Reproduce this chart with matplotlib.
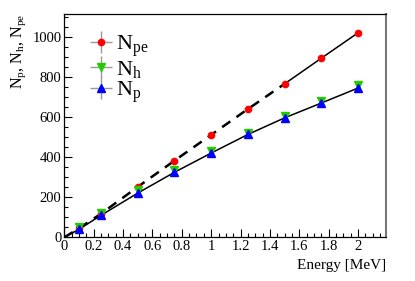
import matplotlib
matplotlib.use("Agg")
import matplotlib.pyplot as plt
import numpy as np
from matplotlib.ticker import MultipleLocator

plt.rcParams['font.family'] = ['Liberation Serif', 'DejaVu Serif']
plt.rcParams['mathtext.fontset'] = 'custom'
plt.rcParams['mathtext.rm'] = 'Liberation Serif'
plt.rcParams['mathtext.it'] = 'Liberation Serif'

# ---- data ----
energy = [0.1, 0.25, 0.5, 0.75, 1.0, 1.25, 1.5, 1.75, 2.0]
n_pe = [45, 118, 252, 383, 512, 641, 767, 895, 1022]
n_h = [52, 122, 236, 336, 432, 522, 607, 683, 759]
n_p = [40, 110, 221, 325, 421, 514, 597, 671, 746]
err = 4  # tiny, hidden behind markers

# ---- figure ----
fig = plt.figure(figsize=(4.15, 2.81), dpi=100)
ax = fig.add_axes([0.155, 0.1555, 0.775, 0.794])

e0 = np.concatenate([[0], energy])
pe0 = np.concatenate([[0], n_pe])
p0 = np.concatenate([[0], n_p])

# fits
ax.plot(e0[:8], pe0[:8], color='black', lw=1.8, ls=(0, (4, 3)), zorder=2)
ax.plot(e0[7:], pe0[7:], color='black', lw=1.1, zorder=2)
ax.plot(e0, p0, color='black', lw=1.1, zorder=2)

kw = dict(ls='none', ecolor='#999999', elinewidth=1.0, xerr=0.002, yerr=err, zorder=3)
h1 = ax.errorbar(energy, n_pe, fmt='o', color='red', ms=4.5, **kw)
h2 = ax.errorbar(energy, n_h, fmt='v', color='#22cc00', ms=6.2, **kw)
h3 = ax.errorbar(energy, n_p, fmt='^', color='blue', ms=6.2, **kw)

ax.legend([h1, h2, h3], [r'N$_{\rm pe}$', r'N$_{\rm h}$', r'N$_{\rm p}$'],
          loc='upper left', bbox_to_anchor=(0.058, 0.955), frameon=False,
          fontsize=16, handlelength=0.85, handletextpad=0.22, labelspacing=0.0,
          borderaxespad=0)

ax.set_xlim(0, 2.19)
ax.set_ylim(0, 1115)
ax.xaxis.set_minor_locator(MultipleLocator(0.05))
ax.yaxis.set_major_locator(MultipleLocator(200))
ax.yaxis.set_minor_locator(MultipleLocator(50))
ax.set_xticks(np.arange(0, 2.01, 0.2))
ax.set_xticklabels(['0', '0.2', '0.4', '0.6', '0.8', '1', '1.2', '1.4', '1.6', '1.8', '2'])
ax.tick_params(which='both', direction='in', top=False, right=False, labelsize=10.5, pad=2)
ax.tick_params(which='major', length=6, width=0.8)
ax.tick_params(which='minor', length=3, width=0.8)
for s in ax.spines.values():
    s.set_linewidth(0.9)
ax.spines['right'].set_color('#777777')
ax.spines['right'].set_linewidth(1.5)

ax.set_xlabel('Energy [MeV]', fontsize=11, loc='right', labelpad=4)
ax.set_ylabel(r'N$_{\rm p}$, N$_{\rm h}$, N$_{\rm pe}$', fontsize=11.5, loc='top', labelpad=3)

fig.savefig('out.png', dpi=100)
